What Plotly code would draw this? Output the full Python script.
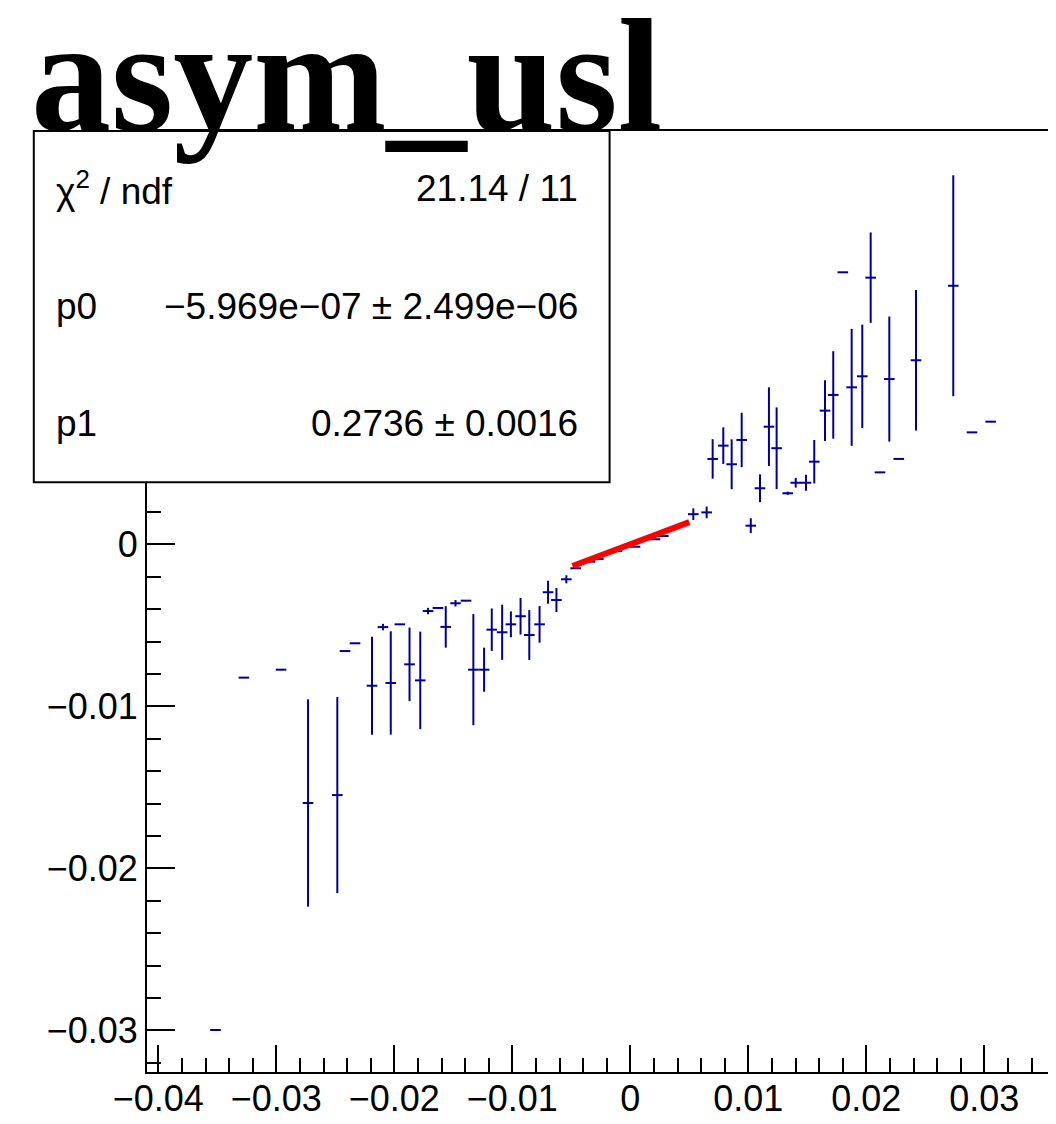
import plotly.graph_objects as go

# ---------------- data ----------------
x_vals = [-0.03515, -0.03275, -0.02960, -0.02731, -0.02483, -0.02418, -0.02333,
          -0.02189, -0.02096, -0.02030, -0.01953, -0.01871, -0.01780, -0.01714,
          -0.01630, -0.01564, -0.01481, -0.01392, -0.01330, -0.01239, -0.01174,
          -0.01086, -0.01012, -0.00930, -0.00856, -0.00769, -0.00697, -0.00626,
          -0.00542, -0.00463, -0.00342, -0.00271, -0.00115, 0.00040, 0.00209,
          0.00280, 0.00534, 0.00647, 0.00698, 0.00788, 0.00859, 0.00944,
          0.01021, 0.01099, 0.01175, 0.01240, 0.01334, 0.01402, 0.01489,
          0.01559, 0.01650, 0.01720, 0.01801, 0.01876, 0.01966, 0.02037,
          0.02116, 0.02195, 0.02275, 0.02421, 0.02737, 0.02896, 0.03054]
y_vals = [-0.02998, -0.00823, -0.00774, -0.01597, -0.01548, -0.00659, -0.00611,
          -0.00873, -0.00511, -0.00856, -0.00494, -0.00741, -0.00840, -0.00412,
          -0.00393, -0.00510, -0.00364, -0.00348, -0.00774, -0.00774, -0.00527,
          -0.00543, -0.00494, -0.00444, -0.00560, -0.00494, -0.00296, -0.00344,
          -0.00216, -0.00148, -0.00107, -0.00091, -0.00041, -0.00015, 0.00031,
          0.00051, 0.00186, 0.00197, 0.00527, 0.00609, 0.00494, 0.00644,
          0.00115, 0.00346, 0.00726, 0.00593, 0.00315, 0.00380, 0.00380,
          0.00510, 0.00825, 0.00922, 0.01679, 0.00969, 0.01037, 0.01646,
          0.00444, 0.01020, 0.00527, 0.01136, 0.01596, 0.00691, 0.00757]
y_errs = [0.0, 0.0, 0.0, 0.0064, 0.00605, 0.0, 0.0,
          0.00302, 0.0002, 0.00319, 0.0, 0.00227, 0.00301, 0.0002,
          0.0, 0.00128, 0.0002, 0.0, 0.00343, 0.00136, 0.00131,
          0.0017, 0.0008, 0.00113, 0.00154, 0.00113, 0.00071, 0.00074,
          0.00025, 0.0, 0.0, 0.0, 0.0, 0.0, 0.0,
          0.0, 0.00036, 0.00036, 0.00122, 0.00113, 0.00154, 0.00168,
          0.00046, 0.00086, 0.00243, 0.00252, 0.0001, 0.0003, 0.0005,
          0.00134, 0.00188, 0.0027, 0.0, 0.00361, 0.00319, 0.00279,
          0.0, 0.00386, 0.0, 0.00434, 0.00682, 0.0, 0.0]
x_half_width = 0.00045

fit_p0 = -5.969e-07
fit_p1 = 0.2736
fit_range = [-0.0049, 0.0050]

title_text = "asym_usl"
stats_labels = ["χ<sup>2</sup> / ndf", "p0", "p1"]
stats_values = ["21.14 / 11", "−5.969e−07 ± 2.499e−06", "0.2736 ± 0.0016"]

x_tickvals = [-0.04, -0.03, -0.02, -0.01, 0.0, 0.01, 0.02, 0.03]
y_tickvals = [-0.03, -0.02, -0.01, 0.0]

# ---------------- layout geometry (page pixels) ----------------
OFF = 8                      # default body margin of the written html page
PAGE_W, PAGE_H = 1056, 1124
PLOT_L, PLOT_R, PLOT_T, PLOT_B = 147, 1056, 131, 1072   # plot frame in page px
W, H = PAGE_W - OFF, PAGE_H - OFF
L = PLOT_L - OFF
T = PLOT_T - OFF
R = PAGE_W - PLOT_R
B = PAGE_H - PLOT_B
PW, PH = PLOT_R - PLOT_L, PLOT_B - PLOT_T
X0_PX, X_SCALE = 630.3, 11800.0
Y0_PX, Y_SCALE = 544.3, 16200.0
x_range = [(PLOT_L - X0_PX) / X_SCALE, (PLOT_R - X0_PX) / X_SCALE]
y_range = [(Y0_PX - PLOT_B) / Y_SCALE, (Y0_PX - PLOT_T) / Y_SCALE]


def px_x(px):
    return (px - PLOT_L) / PW


def px_y(py):
    return (PLOT_B - py) / PH


BLUE = "#000099"

fig = go.Figure()
fig.add_trace(go.Scatter(
    x=x_vals, y=y_vals, mode="markers",
    marker=dict(size=1, color=BLUE),
    error_x=dict(type="constant", value=x_half_width, color=BLUE, thickness=2, width=0),
    error_y=dict(type="data", array=y_errs, color=BLUE, thickness=2, width=0),
    showlegend=False, hoverinfo="skip",
))

fx = [fit_range[0] + (fit_range[1] - fit_range[0]) * i / 50 for i in range(51)]
fy = [fit_p0 + fit_p1 * v for v in fx]
fig.add_trace(go.Scatter(x=fx, y=fy, mode="lines", line=dict(color="#ff0000", width=6),
                         showlegend=False, hoverinfo="skip"))

axis_font = dict(family="Liberation Sans, Arial, sans-serif", size=36, color="black")

fig.update_xaxes(
    range=x_range, tickvals=x_tickvals, ticks="inside", ticklen=27, tickwidth=2,
    tickcolor="black", showline=True, linewidth=2, linecolor="black", mirror=True,
    showgrid=False, zeroline=False, tickfont=axis_font, ticklabelstandoff=-6,
    minor=dict(dtick=0.002, tick0=0, ticks="inside", ticklen=14, tickwidth=2,
               tickcolor="black", showgrid=False),
)
fig.update_yaxes(
    range=y_range, tickvals=y_tickvals, ticks="inside", ticklen=28, tickwidth=2,
    tickcolor="black", showline=True, linewidth=2, linecolor="black", mirror=False,
    showgrid=False, zeroline=False, tickfont=axis_font,
    minor=dict(dtick=0.002, tick0=0, ticks="inside", ticklen=14, tickwidth=2,
               tickcolor="black", showgrid=False),
)

# stats box
fig.add_shape(type="rect", xref="paper", yref="paper",
              x0=px_x(33.8), x1=px_x(609.6), y0=px_y(482.3), y1=px_y(131),
              line=dict(color="black", width=2), fillcolor="white", layer="above")

stat_font = dict(family="Liberation Sans, Arial, sans-serif", size=37, color="black")
row_y = [189, 306.5, 423]
for lab, val, ry in zip(stats_labels, stats_values, row_y):
    fig.add_annotation(xref="paper", yref="paper", x=px_x(54), y=px_y(ry),
                       xanchor="left", yanchor="middle", text=lab, showarrow=False,
                       font=stat_font)
    fig.add_annotation(xref="paper", yref="paper", x=px_x(580), y=px_y(ry),
                       xanchor="right", yanchor="middle", text=val, showarrow=False,
                       font=stat_font)

# title
fig.add_annotation(xref="paper", yref="paper", x=px_x(28.8), y=px_y(-15.3),
                   xanchor="left", yanchor="top", text="<b>" + title_text + "</b>",
                   showarrow=False,
                   font=dict(family="Liberation Serif, Times New Roman, serif", size=160,
                             color="black"))

fig.update_layout(
    width=W, height=H, margin=dict(l=L, r=R, t=T, b=B, pad=0),
    paper_bgcolor="white", plot_bgcolor="white",
)

fig.write_html("out.html")
